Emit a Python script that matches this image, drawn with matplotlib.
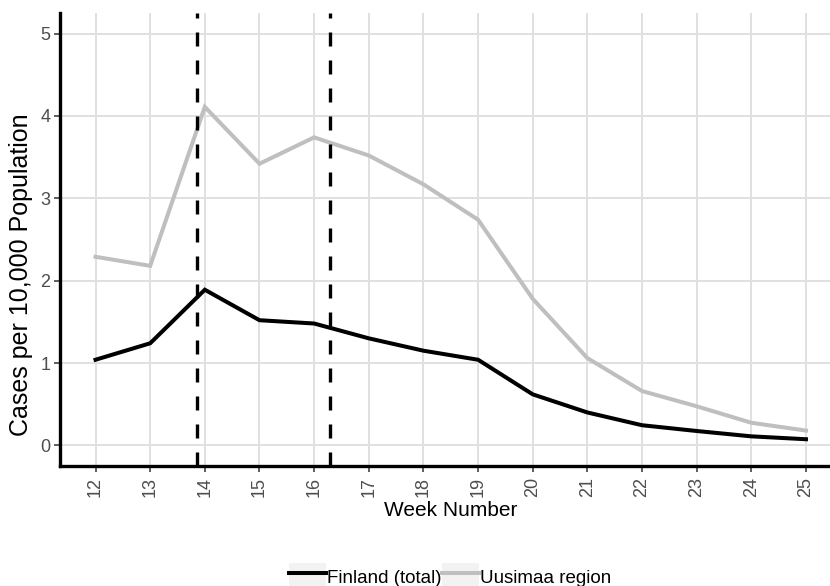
import matplotlib
matplotlib.use("Agg")
import matplotlib.pyplot as plt
from matplotlib.lines import Line2D
from matplotlib.patches import Patch
from matplotlib.legend_handler import HandlerTuple

plt.rcParams['font.family'] = ['Liberation Sans', 'DejaVu Sans']

weeks = [12, 13, 14, 15, 16, 17, 18, 19, 20, 21, 22, 23, 24, 25]
finland_total = [1.04, 1.24, 1.89, 1.52, 1.48, 1.30, 1.15, 1.04, 0.62, 0.40, 0.245, 0.175, 0.11, 0.075]
uusimaa_region = [2.29, 2.18, 4.11, 3.42, 3.74, 3.52, 3.17, 2.74, 1.78, 1.06, 0.66, 0.475, 0.275, 0.18]
event_weeks = [13.857, 16.286]
series_labels = ["Finland (total)", "Uusimaa region"]
y_ticks = [0, 1, 2, 3, 4, 5]

W, H = 830, 586
fig = plt.figure(figsize=(W / 100, H / 100), dpi=100)
left_px, right_px, top_px, bottom_px = 60, 841.5, 13, 466
ax = fig.add_axes([left_px / W, (H - bottom_px) / H,
                   (right_px - left_px) / W, (bottom_px - top_px) / H])

ax.set_xlim(11.35, 25.65)
ax.set_ylim(-0.25, 5.25)
ax.set_xticks(weeks)
ax.set_xticklabels([str(w) for w in weeks], rotation=90, va='top', ha='center')
ax.set_yticks(y_ticks)

ax.grid(True, color='#e0e0e0', linewidth=1.4, zorder=0)
ax.set_axisbelow(True)

line_gray = '#bfbfbf'
ax.plot(weeks, uusimaa_region, color=line_gray, lw=2.9, solid_joinstyle='miter', zorder=3)
ax.plot(weeks, finland_total, color='black', lw=2.9, solid_joinstyle='miter', zorder=4)
for ew in event_weeks:
    ax.axvline(ew, color='black', lw=2.4, linestyle=(0, (4.2, 4.2)), zorder=5)

for s in ['top', 'right']:
    ax.spines[s].set_visible(False)
for s in ['left', 'bottom']:
    ax.spines[s].set_linewidth(2.4)
    ax.spines[s].set_color('black')

ax.tick_params(axis='both', colors='#333333', labelcolor='#4d4d4d',
               labelsize=13, length=4, width=1.1)
ax.tick_params(axis='x', pad=4)
ax.tick_params(axis='y', pad=3)

ax.set_xlabel('Week Number', fontsize=15, color='black', va='center')
ax.xaxis.set_label_coords((451 - left_px) / (right_px - left_px),
                          -(511 - bottom_px) / (bottom_px - top_px))
ax.set_ylabel('Cases per 10,000 Population', fontsize=18, color='black', va='center')
ax.yaxis.set_label_coords(-(left_px - 21) / (right_px - left_px),
                          (bottom_px - 275) / (bottom_px - top_px))

key_bg = '#f2f2f2'
handles = [
    (Patch(facecolor=key_bg, edgecolor='none'), Line2D([], [], color='black', lw=2.9)),
    (Patch(facecolor=key_bg, edgecolor='none'), Line2D([], [], color=line_gray, lw=2.9)),
]
fig.legend(handles, series_labels, handler_map={tuple: HandlerTuple(ndivide=1, pad=0)},
           loc='center', bbox_to_anchor=(450 / W, (H - 577) / H), ncol=2,
           frameon=False, fontsize=13.5, handlelength=1.95, handleheight=1.9,
           handletextpad=0.05, columnspacing=0.05, borderpad=0, borderaxespad=0)

fig.savefig('out.png', dpi=100)
